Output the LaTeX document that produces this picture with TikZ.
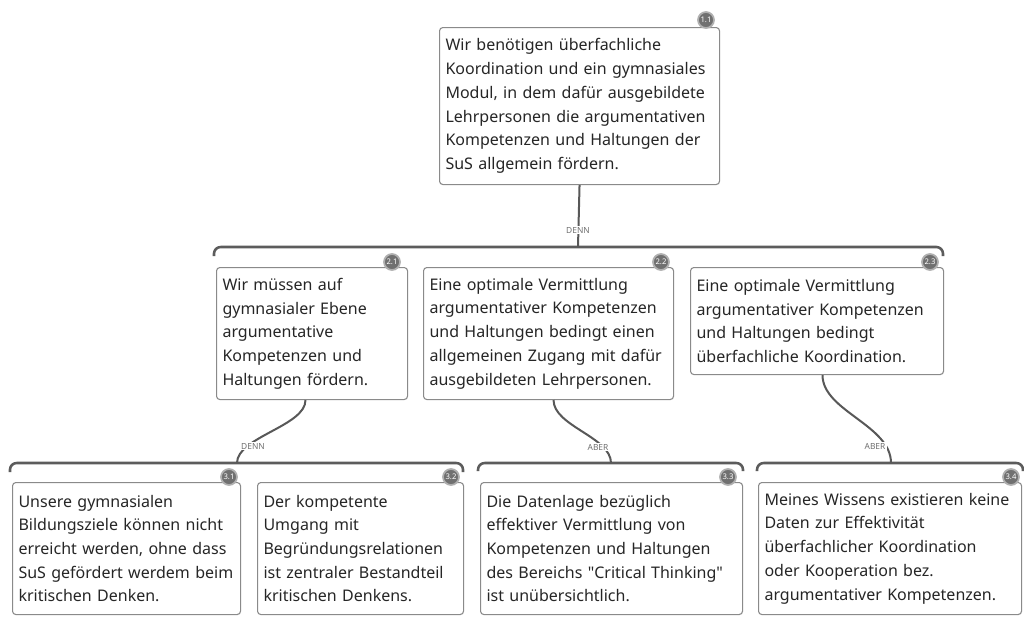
\documentclass[tikz,border=0pt]{standalone}
\usepackage{fontspec}
\setmainfont{Noto Sans}[Ligatures=TeXOff]
\definecolor{boxline}{HTML}{8A8A8A}
\definecolor{barline}{HTML}{5C5C5C}
\definecolor{connline}{HTML}{585858}
\definecolor{txt}{HTML}{262626}
\definecolor{lbltxt}{HTML}{707070}
\definecolor{badgefill}{HTML}{707070}
\definecolor{badgering}{HTML}{B0B0B0}
\tikzset{
  claim/.style={draw=boxline, line width=0.8pt, fill=white, rounded corners=2.5pt,
    anchor=north west, align=left, inner xsep=4.5pt, inner ysep=2pt, text=txt,
    font=\fontsize{12}{17.8}\selectfont},
  bar/.style={draw=barline, line width=1.9pt, rounded corners=5pt},
  conn/.style={draw=connline, line width=1.5pt},
  lbl/.style={fill=white, inner sep=1pt, text=lbltxt, font=\fontsize{6.3}{7}\selectfont},
  badge/.style={circle, fill=badgefill, draw=badgering, line width=1.3pt, inner sep=0pt,
    minimum size=12pt, text=white, font=\fontsize{5.8}{6}\selectfont\bfseries}
}
\begin{document}
\begin{tikzpicture}[x=0.75pt,y=-0.75pt]
\useasboundingbox[fill=white] (0,0) rectangle (1024,619);

% bars and their attach points
\coordinate (b1) at (578,247);
\coordinate (b3a) at (237,463);
\coordinate (b3b) at (611,463);
\coordinate (b3c) at (891,463);
\draw[bar] (214,256) -- (214,247) -- (943,247) -- (943,256);
\draw[bar] (10,472) -- (10,463) -- (463,463) -- (463,472);
\draw[bar] (478,471) -- (478,463) -- (743,463) -- (743,471);
\draw[bar] (757,471) -- (757,463) -- (1023,463) -- (1023,471);

% claims
\node[claim, text width=201pt, minimum height=117.75pt] (n11) at (439,27)
 {Wir benötigen überfachliche\\Koordination und ein gymnasiales\\Modul, in dem dafür ausgebildete\\Lehrpersonen die argumentativen\\Kompetenzen und Haltungen der\\SuS allgemein fördern.};
\node[claim, text width=134.25pt, minimum height=99pt] (n21) at (216,267)
 {Wir müssen auf\\gymnasialer Ebene\\argumentative\\Kompetenzen und\\Haltungen fördern.};
\node[claim, text width=178.5pt, minimum height=99pt] (n22) at (423,267)
 {Eine optimale Vermittlung\\argumentativer Kompetenzen\\und Haltungen bedingt einen\\allgemeinen Zugang mit dafür\\ausgebildeten Lehrpersonen.};
\node[claim, text width=180.75pt, minimum height=80.25pt] (n23) at (690,267)
 {Eine optimale Vermittlung\\argumentativer Kompetenzen\\und Haltungen bedingt\\überfachliche Koordination.};
\node[claim, text width=162pt, minimum height=99pt] (n31) at (12,482)
 {Unsere gymnasialen\\Bildungsziele können nicht\\erreicht werden, ohne dass\\SuS gefördert werdem beim\\kritischen Denken.};
\node[claim, text width=145.5pt, minimum height=99pt] (n32) at (257,482)
 {Der kompetente\\Umgang mit\\Begründungsrelationen\\ist zentraler Bestandteil\\kritischen Denkens.};
\node[claim, text width=187.5pt, minimum height=99pt] (n33) at (480,482)
 {Die Datenlage bezüglich\\effektiver Vermittlung von\\Kompetenzen und Haltungen\\des Bereichs "Critical Thinking"\\ist unübersichtlich.};
\node[claim, text width=188.25pt, minimum height=99pt] (n34) at (758,482)
 {Meines Wissens existieren keine\\Daten zur Effektivität\\überfachlicher Koordination\\oder Kooperation bez.\\argumentativer Kompetenzen.};

% connectors
\draw[conn] (n11.south) -- (b1);
\draw[conn] ([xshift=-4.9pt]n21.south) .. controls +(0,26) and +(0,-26) .. (b3a);
\draw[conn] ([xshift=3.75pt]n22.south) .. controls +(0,26) and +(0,-26) .. (b3b);
\draw[conn] ([xshift=4.1pt]n23.south) .. controls +(0,36) and +(0,-38) .. (b3c);

% connector labels
\node[lbl] (l1) at (578,230) {DENN};
\node[lbl] (l2) at (253,446) {DENN};
\node[lbl] (l3) at (598,447) {ABER};
\node[lbl] (l4) at (875,446) {ABER};

% badges
\node[badge] (k11) at (706,20) {1.1};
\node[badge] (k21) at (392,262) {2.1};
\node[badge] (k22) at (661,262) {2.2};
\node[badge] (k23) at (930,262) {2.3};
\node[badge] (k31) at (229,477) {3.1};
\node[badge] (k32) at (451,477) {3.2};
\node[badge] (k33) at (728,477) {3.3};
\node[badge] (k34) at (1011,477) {3.4};
\end{tikzpicture}
\end{document}
